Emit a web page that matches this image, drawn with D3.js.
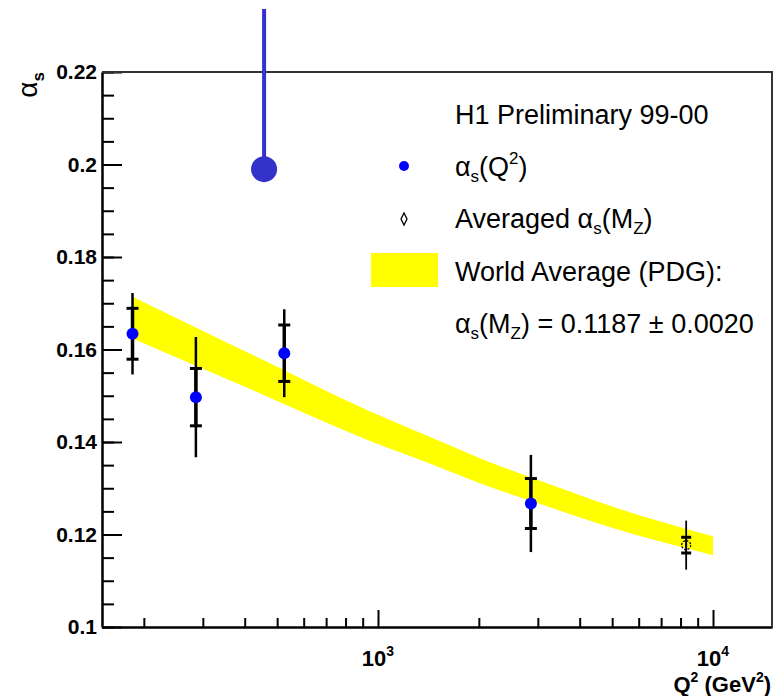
<!DOCTYPE html>
<html>
<head>
<meta charset="utf-8">
<script src="https://cdn.jsdelivr.net/npm/d3@7"></script>
<style>
  body { margin: 0; background: #fff; }
  svg { display: block; font-family: "Liberation Sans", Arial, Helvetica, sans-serif; }
</style>
</head>
<body>
<svg id="chart" width="775" height="696"></svg>
<script>
'use strict';

// H1 alpha_s(Q^2) points, stat (inner) and total (outer) errors
var q2 = [185, 286, 525, 2860];
var alphaS = [0.1634, 0.1497, 0.1592, 0.1267];
var statErr = [0.0055, 0.0062, 0.0061, 0.0054];
var totErr = [0.0088, 0.0130, 0.0095, 0.0105];

// averaged alpha_s(M_Z), drawn at Q^2 = M_Z^2
var avgQ2 = [8315];
var avgAlpha = [0.1177];
var avgStat = [0.0017];
var avgTot = [0.0053];

// PDG world average band
var bandQ2 = [185, 269, 423, 927, 1460, 2016, 3195, 5029, 10000];
var bandHi = [0.1714, 0.1657, 0.1588, 0.1469, 0.1408, 0.1365, 0.1311, 0.1260, 0.1196];
var bandLo = [0.1624, 0.1573, 0.1512, 0.1405, 0.1351, 0.1311, 0.1261, 0.1214, 0.1155];

// blue pin marker sitting over the plot
var pinQ2 = [457];
var pinAlpha = [0.1990];
var pinTop = [0.2336];

// ticks
var yMajor = [0.1, 0.12, 0.14, 0.16, 0.18, 0.2, 0.22];
var yLabels = ["0.1", "0.12", "0.14", "0.16", "0.18", "0.2", "0.22"];
var yMinor = d3.range(0.1, 0.2201, 0.005);
var xMajor = [1000, 10000];
var xLabelBase = ["10", "10"];
var xLabelExp = ["3", "4"];
var xMinor = [200, 300, 400, 500, 600, 700, 800, 900, 2000, 3000, 4000, 5000, 6000, 7000, 8000, 9000];

var svg = d3.select('#chart');
var x = d3.scaleLog().domain([150, 15000]).range([102, 772]);
var y = d3.scaleLinear().domain([0.1, 0.22]).range([627, 72]);
var x0 = x.range()[0], x1 = x.range()[1], y0 = y.range()[0], y1 = y.range()[1];

// band
var band = bandQ2.map(function(q, i) { return {q: q, lo: bandLo[i], hi: bandHi[i]}; });
svg.append('path')
  .datum(band)
  .attr('fill', '#ffff00')
  .attr('d', d3.area()
    .curve(d3.curveMonotoneX)
    .x(function(d) { return x(d.q); })
    .y0(function(d) { return y(d.lo); })
    .y1(function(d) { return y(d.hi); }));

// error bars + points
function errorBar(g, q, a, st, tot, outerW, innerW, capW) {
  var cx = x(q);
  g.append('line').attr('x1', cx).attr('x2', cx)
    .attr('y1', y(a - tot)).attr('y2', y(a + tot))
    .attr('stroke', '#000').attr('stroke-width', outerW);
  g.append('line').attr('x1', cx).attr('x2', cx)
    .attr('y1', y(a - st)).attr('y2', y(a + st))
    .attr('stroke', '#000').attr('stroke-width', innerW);
  [a - st, a + st].forEach(function(v) {
    g.append('line').attr('x1', cx - capW / 2).attr('x2', cx + capW / 2)
      .attr('y1', y(v)).attr('y2', y(v))
      .attr('stroke', '#000').attr('stroke-width', 3);
  });
}

var gp = svg.append('g');
q2.forEach(function(q, i) {
  errorBar(gp, q, alphaS[i], statErr[i], totErr[i], 2.5, 3.5, 12);
});
gp.selectAll('circle.pt')
  .data(q2)
  .enter().append('circle')
  .attr('class', 'pt')
  .attr('cx', function(d) { return x(d); })
  .attr('cy', function(d, i) { return y(alphaS[i]); })
  .attr('r', 6)
  .attr('fill', '#0000ff');

avgQ2.forEach(function(q, i) {
  errorBar(gp, q, avgAlpha[i], avgStat[i], avgTot[i], 1.8, 1.8, 10);
});
gp.selectAll('circle.avg')
  .data(avgQ2)
  .enter().append('circle')
  .attr('class', 'avg')
  .attr('cx', function(d) { return x(d); })
  .attr('cy', function(d, i) { return y(avgAlpha[i]); })
  .attr('r', 4.5)
  .attr('fill', 'none')
  .attr('stroke', '#000')
  .attr('stroke-width', 1.3)
  .attr('stroke-dasharray', '2,1.5');

// axes
function styleAxis(g) {
  g.attr('font-family', null).attr('font-size', null);
  g.selectAll('line').attr('stroke', '#000').attr('stroke-width', 2);
  g.selectAll('.domain').attr('stroke', '#000').attr('stroke-width', 2);
}

var gyMin = svg.append('g').attr('transform', 'translate(' + x0 + ',0)')
  .call(d3.axisLeft(y).tickValues(yMinor).tickSize(-12).tickSizeOuter(0).tickFormat(''));
styleAxis(gyMin);
var gy = svg.append('g').attr('transform', 'translate(' + x0 + ',0)')
  .call(d3.axisLeft(y).tickValues(yMajor).tickSize(-20).tickSizeOuter(0).tickPadding(5)
    .tickFormat(function(d, i) { return yLabels[i]; }));
styleAxis(gy);
gy.selectAll('text').attr('font-size', 21).attr('font-weight', 'bold').attr('fill', '#000');

var gxMin = svg.append('g').attr('transform', 'translate(0,' + y0 + ')')
  .call(d3.axisBottom(x).tickValues(xMinor).tickSize(-9).tickSizeOuter(0).tickFormat(''));
styleAxis(gxMin);
var gx = svg.append('g').attr('transform', 'translate(0,' + y0 + ')')
  .call(d3.axisBottom(x).tickValues(xMajor).tickSize(-17).tickSizeOuter(0).tickFormat(''));
styleAxis(gx);

var xl = svg.selectAll('text.xlab')
  .data(xMajor)
  .enter().append('text')
  .attr('class', 'xlab')
  .attr('x', function(d) { return x(d); })
  .attr('y', 666)
  .attr('text-anchor', 'middle')
  .attr('font-size', 22)
  .attr('font-weight', 'bold');
xl.append('tspan').text(function(d, i) { return xLabelBase[i]; });
xl.append('tspan').attr('dy', -10).attr('font-size', 14).text(function(d, i) { return xLabelExp[i]; });

// frame top / right
svg.append('path')
  .attr('d', 'M' + x0 + ',' + y1 + 'H' + x1 + 'V' + y0)
  .attr('fill', 'none')
  .attr('stroke', '#333')
  .attr('stroke-width', 2);

// axis titles
var xt = svg.append('text')
  .attr('x', 771).attr('y', 692)
  .attr('text-anchor', 'end')
  .attr('font-size', 22)
  .attr('font-weight', 'bold');
xt.append('tspan').text('Q');
xt.append('tspan').attr('dy', -10).attr('font-size', 14).text('2');
xt.append('tspan').attr('dy', 10).text(' (GeV');
xt.append('tspan').attr('dy', -10).attr('font-size', 14).text('2');
xt.append('tspan').attr('dy', 10).text(')');

var yt = svg.append('text')
  .attr('transform', 'translate(37,' + y1 + ') rotate(-90)')
  .attr('text-anchor', 'end')
  .attr('font-size', 28);
yt.append('tspan').text('α');
yt.append('tspan').attr('dy', 7).attr('font-size', 17).attr('font-weight', 'bold').text('s');

// legend
var lx = 455;
var leg = svg.append('g').attr('font-size', 27);
leg.append('text').attr('x', lx).attr('y', 124).text('H1 Preliminary 99-00');

leg.append('circle').attr('cx', 404).attr('cy', 166).attr('r', 5).attr('fill', '#0000ff');
var l2 = leg.append('text').attr('x', lx).attr('y', 176);
l2.append('tspan').text('α');
l2.append('tspan').attr('dy', 6).attr('font-size', 17).text('s');
l2.append('tspan').attr('dy', -6).text('(Q');
l2.append('tspan').attr('dy', -12).attr('font-size', 17).text('2');
l2.append('tspan').attr('dy', 12).text(')');

leg.append('path')
  .attr('d', 'M404,213L407,219L404,225L401,219Z')
  .attr('fill', '#fff').attr('stroke', '#000').attr('stroke-width', 1.3);
var l3 = leg.append('text').attr('x', lx).attr('y', 228);
l3.append('tspan').text('Averaged α');
l3.append('tspan').attr('dy', 6).attr('font-size', 17).text('s');
l3.append('tspan').attr('dy', -6).text('(M');
l3.append('tspan').attr('dy', 6).attr('font-size', 17).text('Z');
l3.append('tspan').attr('dy', -6).text(')');

leg.append('rect').attr('x', 371).attr('y', 253).attr('width', 67).attr('height', 34).attr('fill', '#ffff00');
leg.append('text').attr('x', lx).attr('y', 281).text('World Average (PDG):');

var l5 = leg.append('text').attr('x', lx).attr('y', 333);
l5.append('tspan').text('α');
l5.append('tspan').attr('dy', 6).attr('font-size', 17).text('s');
l5.append('tspan').attr('dy', -6).text('(M');
l5.append('tspan').attr('dy', 6).attr('font-size', 17).text('Z');
l5.append('tspan').attr('dy', -6).text(') = 0.1187 ± 0.0020');

// pin
pinQ2.forEach(function(q, i) {
  svg.append('line')
    .attr('x1', x(q)).attr('x2', x(q))
    .attr('y1', y(pinTop[i])).attr('y2', y(pinAlpha[i]))
    .attr('stroke', '#3333cc').attr('stroke-width', 4);
  svg.append('circle')
    .attr('cx', x(q)).attr('cy', y(pinAlpha[i])).attr('r', 13)
    .attr('fill', '#3333cc');
});
</script>
</body>
</html>
